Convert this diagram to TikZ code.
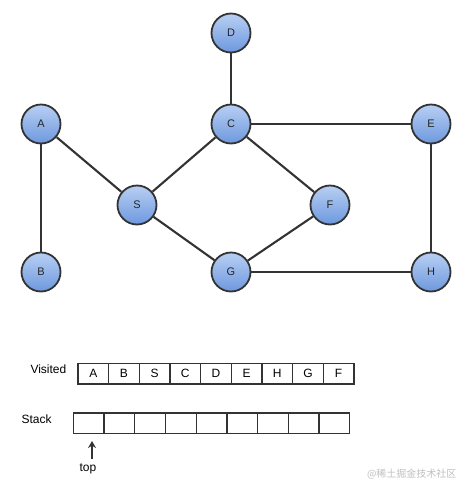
\documentclass[tikz,border=0pt]{standalone}
\usepackage{fontspec}
\usetikzlibrary{arrows.meta}
\setmainfont{Liberation Sans}
\newfontfamily\cjk{Noto Sans CJK SC}
\definecolor{ntop}{HTML}{B8CFF3}
\definecolor{nbot}{HTML}{6D98DE}
\definecolor{edgec}{HTML}{333333}
\begin{document}
\begin{tikzpicture}[x=1pt,y=-1pt,
  vert/.style={circle,draw=edgec,line width=1.8pt,minimum size=39pt,inner sep=0pt,
    top color=ntop,bottom color=nbot,font=\fontsize{11}{13}\selectfont,text=black!85},
  edge/.style={draw=edgec,line width=2.1pt},
  cell/.style={draw=edgec,line width=1.3pt,minimum width=30.7pt,minimum height=20.5pt,inner sep=0pt,
    font=\fontsize{12}{14}\selectfont,anchor=north west},
  lbl/.style={font=\fontsize{12}{14}\selectfont,anchor=west}]
\useasboundingbox (0,0) rectangle (463,483);
\node[vert] (D) at (231,33) {D};
\node[vert] (A) at (41,124) {A};
\node[vert] (C) at (231,124) {C};
\node[vert] (E) at (431,124) {E};
\node[vert] (S) at (137,205) {S};
\node[vert] (F) at (330,205) {F};
\node[vert] (B) at (41,272) {B};
\node[vert] (G) at (231,272) {G};
\node[vert] (H) at (431,272) {H};
\draw[edge] (D) -- (C);
\draw[edge] (A) -- (B);
\draw[edge] (A) -- (S);
\draw[edge] (C) -- (S);
\draw[edge] (C) -- (E);
\draw[edge] (C) -- (F);
\draw[edge] (S) -- (G);
\draw[edge] (F) -- (G);
\draw[edge] (G) -- (H);
\draw[edge] (E) -- (H);
\node[lbl] (vlab) at (27,369) {Visited};
\foreach \t [count=\i from 0] in {A,B,S,C,D,E,H,G,F}{
  \node[cell] (v\i) at (77.3+30.67*\i,362.7) {\t};
}
\node[lbl] (slab) at (18,419) {Stack};
\foreach \i in {0,...,8}{
  \node[cell] (s\i) at (72.7+30.7*\i,412.3) {};
}
\node[font=\fontsize{12}{14}\selectfont] (top) at (88,469) {top};
\coordinate (arrtip) at (92,441);
\coordinate (arrtail) at (92,459);
\draw[edgec,line width=2.2pt,-{Stealth[length=7pt,width=8pt]}] (arrtail) -- (arrtip);
\node[font=\cjk\fontsize{10}{12}\selectfont,text=black!25,anchor=east] (wm) at (460,474) {@稀土掘金技术社区};
\end{tikzpicture}
\end{document}
